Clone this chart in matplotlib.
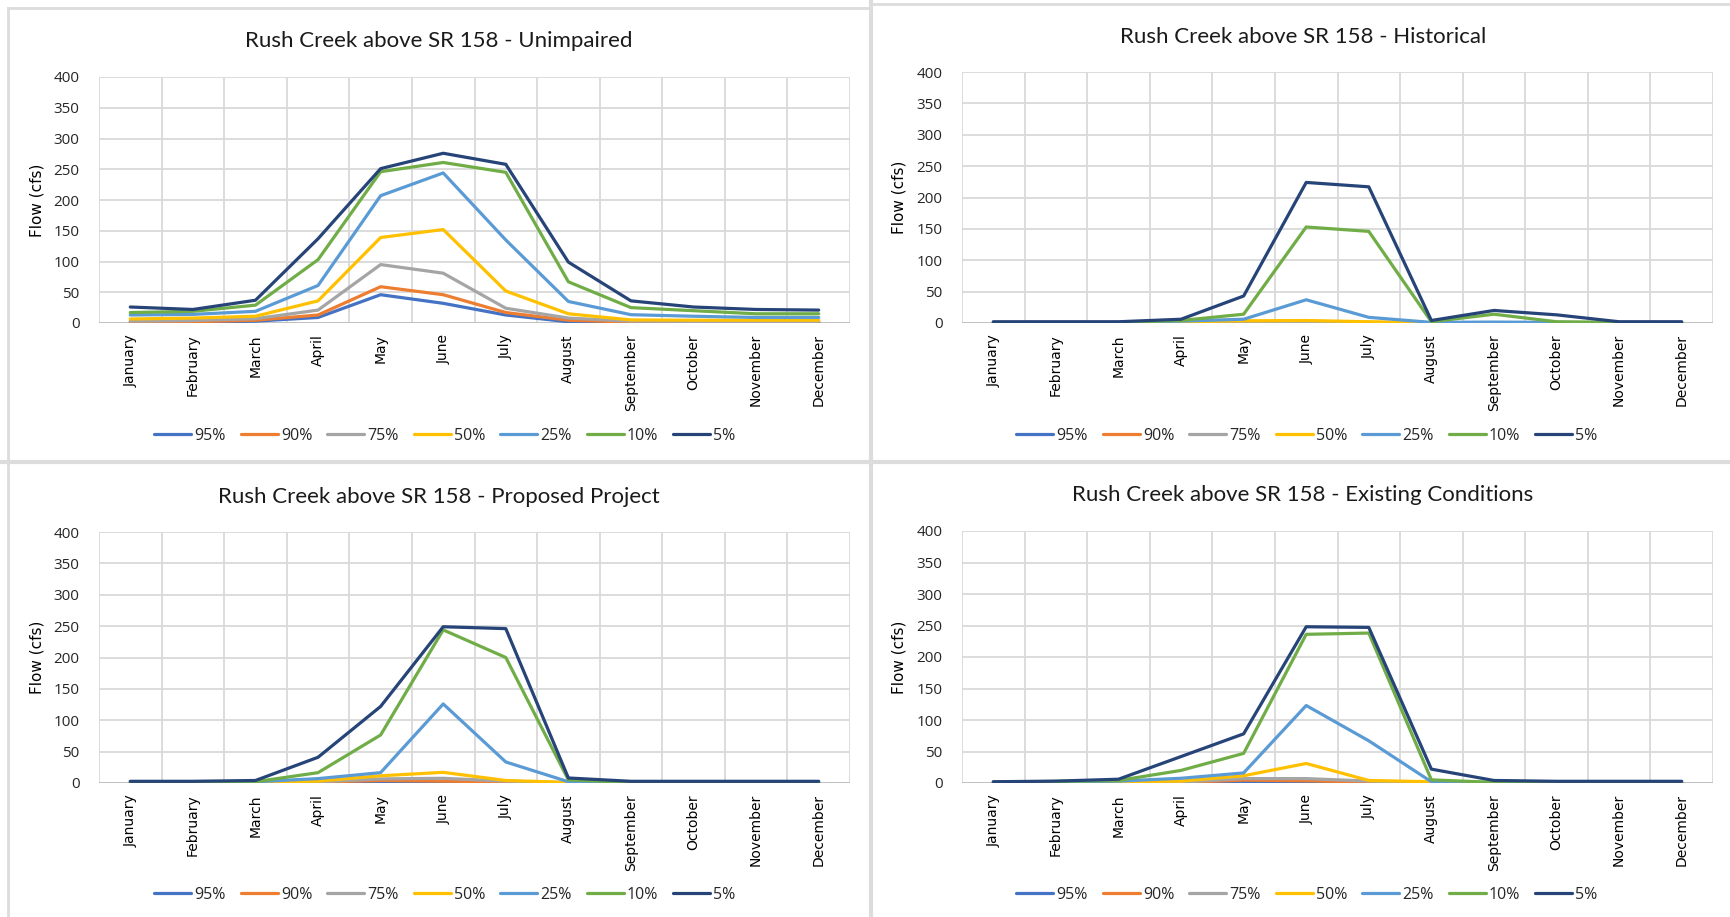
import matplotlib
matplotlib.use("Agg")
import matplotlib.pyplot as plt
from matplotlib.lines import Line2D

MONTHS = ["January", "February", "March", "April", "May", "June", "July",
          "August", "September", "October", "November", "December"]
PERCENTILES = ["95%", "90%", "75%", "50%", "25%", "10%", "5%"]
COLORS = ["#4472C4", "#ED7D31", "#A5A5A5", "#FFC000", "#5B9BD5", "#70AD47", "#264478"]
YTICKS = [0, 50, 100, 150, 200, 250, 300, 350, 400]

# Unimpaired
UNIMP_95 = [0.5, 1, 3, 9, 46, 32, 13, 2, 0.5, 0.5, 0.5, 0.5]
UNIMP_90 = [1.6, 2, 4.5, 13, 59, 46, 17, 4.5, 1.5, 1.5, 1.5, 1.5]
UNIMP_75 = [3, 4, 7, 21, 95, 81, 24, 8, 3, 2.5, 2.5, 2.5]
UNIMP_50 = [6.5, 8, 11, 36, 139, 152, 52, 15, 5, 4.5, 4.5, 4.5]
UNIMP_25 = [13, 14, 19, 61, 207, 244, 135, 35, 13.5, 11, 9, 9]
UNIMP_10 = [17, 19, 29, 103, 246, 261, 245, 67, 25, 20, 15, 15]
UNIMP_05 = [26, 22, 37, 137, 251, 276, 258, 99, 36, 26, 22, 21]

# Historical
HIST_95 = [0.1, 0.1, 0.1, 0.3, 0.5, 0.5, 0.3, 0.1, 0.1, 0.1, 0.1, 0.1]
HIST_90 = [0.2, 0.2, 0.2, 0.5, 1, 1, 0.5, 0.2, 0.2, 0.2, 0.2, 0.2]
HIST_75 = [0.3, 0.3, 0.3, 1, 1.5, 2, 1, 0.3, 0.3, 0.3, 0.3, 0.3]
HIST_50 = [0.5, 0.5, 0.5, 2, 3.5, 4, 2, 0.5, 0.5, 0.5, 0.5, 0.5]
HIST_25 = [0.5, 0.5, 0.5, 3, 6, 37, 9, 1, 1.5, 1, 0.5, 0.5]
HIST_10 = [1, 1, 1, 4, 14, 153, 146, 2, 14, 2, 1, 1]
HIST_05 = [2, 2, 2, 6, 43, 224, 217, 4, 20, 13, 2, 2]

# Proposed Project
PROP_95 = [0.2, 0.2, 0.3, 1, 2, 1.5, 1, 0.3, 0.2, 0.2, 0.2, 0.2]
PROP_90 = [0.3, 0.3, 0.5, 1.5, 4, 3, 1.5, 0.5, 0.3, 0.3, 0.3, 0.3]
PROP_75 = [0.5, 0.5, 0.8, 2, 6.5, 7.5, 3, 0.5, 0.4, 0.4, 0.4, 0.4]
PROP_50 = [0.5, 0.5, 1, 3, 11.5, 17, 4, 1, 0.5, 0.5, 0.5, 0.5]
PROP_25 = [1, 1, 2, 7, 16.5, 126, 33.5, 2, 1, 1, 1, 1]
PROP_10 = [2, 2, 2, 16.5, 76.5, 244, 200, 5, 1, 1, 1, 1]
PROP_05 = [2.7, 2.7, 4, 41, 122, 249, 246, 8, 2.7, 2.7, 2.7, 2.7]

# Existing Conditions
EXIST_95 = [0.2, 0.3, 0.5, 0.5, 2, 1.5, 0.5, 0.3, 0.2, 0.2, 0.2, 0.2]
EXIST_90 = [0.3, 0.5, 1, 1, 4.5, 3.5, 1.5, 0.5, 0.3, 0.3, 0.3, 0.3]
EXIST_75 = [0.5, 0.8, 1.5, 1.5, 7, 7, 3, 1, 0.4, 0.4, 0.4, 0.4]
EXIST_50 = [0.5, 1, 2, 3, 11.5, 31, 4, 2, 0.5, 0.5, 0.5, 0.5]
EXIST_25 = [1, 1.5, 3, 7.5, 16, 123, 67, 2, 0.5, 0.5, 0.5, 0.5]
EXIST_10 = [1.5, 2.5, 4, 20, 47, 236, 238, 5, 1, 1, 1, 1]
EXIST_05 = [2, 3, 6, 42, 78, 248, 247, 22, 4, 2.7, 2.7, 2.7]

TITLES = ["Rush Creek above SR 158 - Unimpaired",
          "Rush Creek above SR 158 - Historical",
          "Rush Creek above SR 158 - Proposed Project",
          "Rush Creek above SR 158 - Existing Conditions"]
SERIES = [
    [UNIMP_95, UNIMP_90, UNIMP_75, UNIMP_50, UNIMP_25, UNIMP_10, UNIMP_05],
    [HIST_95, HIST_90, HIST_75, HIST_50, HIST_25, HIST_10, HIST_05],
    [PROP_95, PROP_90, PROP_75, PROP_50, PROP_25, PROP_10, PROP_05],
    [EXIST_95, EXIST_90, EXIST_75, EXIST_50, EXIST_25, EXIST_10, EXIST_05],
]

W, H = 1730, 917
fig = plt.figure(figsize=(W / 100, H / 100), dpi=100)
fig.patch.set_facecolor("white")

def fx(px):
    return px / W

def fy(py):
    return 1 - py / H

# panel layout in pixels:
# (axes left, right, top, bottom, title y, legend y, legend center x, ylabel x)
PANELS = [
    (99, 850, 77, 323, 39, 436, 445, 45),
    (962, 1713, 72, 323, 35, 436, 1307, 907),
    (99, 850, 532, 783, 495, 895, 445, 45),
    (962, 1713, 531, 783, 493, 895, 1307, 907),
]
TITLE_X = [439, 1303, 439, 1303]

TITLE_FONT = "Lato"
TICK_FONT = "Open Sans"
GRID = "#d9d9d9"

for (l, r, t, b, ty, ly, cx, labx), tx, title, series in zip(PANELS, TITLE_X, TITLES, SERIES):
    ax = fig.add_axes([fx(l), fy(b), fx(r) - fx(l), fy(t) - fy(b)])
    x = list(range(len(MONTHS)))
    handles = []
    for vals, lab, col in zip(series, PERCENTILES, COLORS):
        h, = ax.plot(x, vals, color=col, lw=2.3, label=lab, solid_joinstyle="round",
                     solid_capstyle="round", zorder=3)
        handles.append(h)
    ax.set_xlim(-0.5, len(MONTHS) - 0.5)
    ax.set_ylim(0, 400)
    ax.set_yticks(YTICKS)
    ax.set_yticklabels([str(v) for v in YTICKS], fontfamily=TICK_FONT, fontsize=11,
                       color="#262626")
    ax.set_xticks(x)
    ax.set_xticklabels(MONTHS, rotation=90, fontfamily="DejaVu Sans", fontsize=10,
                       color="#000000", va="top")
    ax.tick_params(axis="both", length=0)
    ax.tick_params(axis="x", pad=8)
    ax.tick_params(axis="y", pad=14)
    for v in YTICKS:
        ax.axhline(v, color=GRID, lw=1.3, zorder=1)
    for k in range(len(MONTHS) + 1):
        ax.axvline(k - 0.5, color=GRID, lw=1.3, zorder=1)
    for s in ax.spines.values():
        s.set_visible(False)
    ax.axhline(0, color="#bfbfbf", lw=1.3, zorder=2)
    ax.set_ylabel("Flow (cfs)", fontfamily="DejaVu Sans", fontsize=11, color="#000000")
    ax.yaxis.set_label_coords((labx - l) / (r - l), 0.5)
    fig.text(fx(tx), fy(ty + 2), title, ha="center", va="center", fontfamily=TITLE_FONT,
             fontsize=16, color="#1a1a1a")
    fig.legend(handles=handles, labels=PERCENTILES, loc="center", ncol=7,
               bbox_to_anchor=(fx(cx), fy(ly)), frameon=False,
               prop={"family": TICK_FONT, "size": 11.5}, handlelength=2.3,
               handletextpad=0.2, columnspacing=0.95, labelcolor="#262626")

# panel separators / borders
SEP = "#dcdcdc"
fig.add_artist(Line2D([fx(8), fx(8)], [fy(8), fy(917)], color=SEP, lw=2))
fig.add_artist(Line2D([fx(8), fx(870)], [fy(8), fy(8)], color=SEP, lw=2))
fig.add_artist(Line2D([fx(871), fx(871)], [0, 1], color=SEP, lw=3))
fig.add_artist(Line2D([0, 1], [fy(462), fy(462)], color=SEP, lw=3))
fig.add_artist(Line2D([fx(871), fx(1730)], [fy(4), fy(4)], color=SEP, lw=2))

fig.savefig("out.png", dpi=100, facecolor="white")
